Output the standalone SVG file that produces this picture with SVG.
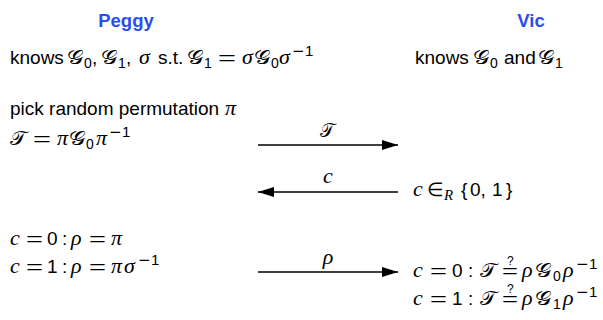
<svg xmlns="http://www.w3.org/2000/svg" width="603" height="320" viewBox="0 0 603 320">
<defs>
<marker id="ah" viewBox="0 0 16 10" refX="16" refY="5" markerWidth="16" markerHeight="10" markerUnits="userSpaceOnUse" orient="auto">
<path d="M0,0 L16,5 L0,10 Z" fill="#000"/>
</marker>
</defs>
<style>
text{font-family:"Liberation Sans",Arial,sans-serif;font-size:19px;fill:#000}
.h{font-weight:bold;fill:#2b4cf2;text-anchor:middle;font-size:18.5px}
.i{font-family:"Liberation Serif","DejaVu Serif",serif;font-style:italic;font-size:22px}
.g{font-family:"DejaVu Sans","Noto Sans",sans-serif;font-size:19px}
.s{font-size:14px}
.m{font-family:"DejaVu Sans",sans-serif;font-size:15px}
.u{font-size:15px}
.e{font-size:18px}
.o{font-family:"DejaVu Sans",sans-serif;font-size:19px}
.q{font-family:"Liberation Sans",sans-serif;font-size:12px}
.lbl{text-anchor:middle}
line{stroke:#000;stroke-width:1.6}
</style>
<g id="peggy-title"><text class="h" x="126" y="27">Peggy</text></g>
<g id="vic-title"><text class="h" x="531" y="27">Vic</text></g>
<g id="peggy-knows">
<text x="10" y="64">knows</text>
<text class="g" x="67" y="64" textLength="17" lengthAdjust="spacingAndGlyphs">𝒢</text><text class="s" x="84" y="68">0</text>
<text x="92" y="64">,</text>
<text class="g" x="101" y="64" textLength="17" lengthAdjust="spacingAndGlyphs">𝒢</text><text class="s" x="118" y="68">1</text>
<text x="126" y="64">,</text>
<text class="i" x="139" y="64">σ</text>
<text x="158" y="64">s.t.</text>
<text class="g" x="187" y="64" textLength="17" lengthAdjust="spacingAndGlyphs">𝒢</text><text class="s" x="204" y="68">1</text>
<text class="e" x="218" y="64" textLength="18" lengthAdjust="spacingAndGlyphs">=</text>
<text class="i" x="242" y="64">σ</text>
<text class="g" x="254" y="64" textLength="17" lengthAdjust="spacingAndGlyphs">𝒢</text><text class="s" x="271" y="68">0</text>
<text class="i" x="279" y="64">σ</text>
<text class="m" x="292" y="56">−</text><text class="u" x="305" y="56">1</text>
</g>
<g id="vic-knows">
<text x="415" y="64">knows</text>
<text class="g" x="473" y="64" textLength="17" lengthAdjust="spacingAndGlyphs">𝒢</text><text class="s" x="490" y="68">0</text>
<text x="504" y="64">and</text>
<text class="g" x="538" y="64" textLength="17" lengthAdjust="spacingAndGlyphs">𝒢</text><text class="s" x="555" y="68">1</text>
</g>
<g id="peggy-pick">
<text x="10" y="115">pick random permutation</text>
<text class="i" x="225" y="115">π</text>
</g>
<g id="peggy-T">
<text class="g" x="10" y="145" textLength="17" lengthAdjust="spacingAndGlyphs">𝒯</text>
<text class="e" x="33" y="145" textLength="18" lengthAdjust="spacingAndGlyphs">=</text>
<text class="i" x="57" y="145">π</text>
<text class="g" x="69" y="145" textLength="17" lengthAdjust="spacingAndGlyphs">𝒢</text><text class="s" x="86" y="149">0</text>
<text class="i" x="96" y="145">π</text>
<text class="m" x="109" y="137">−</text><text class="u" x="122" y="137">1</text>
</g>
<g id="vic-c">
<text class="i" x="413" y="196">c</text>
<text class="o" x="427" y="196">∈</text>
<text class="i" x="444" y="200" style="font-size:15px">R</text>
<text x="461" y="196">{</text>
<text x="470" y="196">0,</text>
<text x="492" y="196">1</text>
<text x="506" y="196">}</text>
</g>
<g id="peggy-rho0">
<text class="i" x="10" y="245">c</text>
<text class="e" x="26" y="245" textLength="17" lengthAdjust="spacingAndGlyphs">=</text>
<text x="47" y="245">0</text>
<text x="62" y="245">:</text>
<text class="i" x="71" y="245">ρ</text>
<text class="e" x="89" y="245" textLength="17" lengthAdjust="spacingAndGlyphs">=</text>
<text class="i" x="111" y="245">π</text>
</g>
<g id="peggy-rho1">
<text class="i" x="10" y="273">c</text>
<text class="e" x="26" y="273" textLength="17" lengthAdjust="spacingAndGlyphs">=</text>
<text x="47" y="273">1</text>
<text x="62" y="273">:</text>
<text class="i" x="71" y="273">ρ</text>
<text class="e" x="89" y="273" textLength="17" lengthAdjust="spacingAndGlyphs">=</text>
<text class="i" x="111" y="273">π</text>
<text class="i" x="124" y="273">σ</text>
<text class="m" x="138" y="265">−</text><text class="u" x="151" y="265">1</text>
</g>
<g id="vic-check0">
<text class="i" x="413" y="277">c</text>
<text class="e" x="430" y="277" textLength="17" lengthAdjust="spacingAndGlyphs">=</text>
<text x="452" y="277">0</text>
<text x="468" y="277">:</text>
<text class="g" x="480" y="277" textLength="17" lengthAdjust="spacingAndGlyphs">𝒯</text>
<text class="e" x="502" y="277" textLength="16" lengthAdjust="spacingAndGlyphs">=</text>
<text class="q" x="507" y="265">?</text>
<text class="i" x="522" y="277">ρ</text>
<text class="g" x="535" y="277" textLength="17" lengthAdjust="spacingAndGlyphs">𝒢</text><text class="s" x="553" y="281">0</text>
<text class="i" x="563" y="277">ρ</text>
<text class="m" x="576" y="269">−</text><text class="u" x="589" y="269">1</text>
</g>
<g id="vic-check1">
<text class="i" x="413" y="305">c</text>
<text class="e" x="430" y="305" textLength="17" lengthAdjust="spacingAndGlyphs">=</text>
<text x="452" y="305">1</text>
<text x="468" y="305">:</text>
<text class="g" x="480" y="305" textLength="17" lengthAdjust="spacingAndGlyphs">𝒯</text>
<text class="e" x="502" y="305" textLength="16" lengthAdjust="spacingAndGlyphs">=</text>
<text class="q" x="507" y="293">?</text>
<text class="i" x="522" y="305">ρ</text>
<text class="g" x="535" y="305" textLength="17" lengthAdjust="spacingAndGlyphs">𝒢</text><text class="s" x="553" y="309">1</text>
<text class="i" x="563" y="305">ρ</text>
<text class="m" x="576" y="297">−</text><text class="u" x="589" y="297">1</text>
</g>
<g id="connectors">
<line x1="258" y1="145" x2="398" y2="145" marker-end="url(#ah)"/>
<text class="lbl g" x="327" y="137">𝒯</text>
<line x1="398" y1="192" x2="258" y2="192" marker-end="url(#ah)"/>
<text class="lbl i" x="328" y="183">c</text>
<line x1="258" y1="272" x2="398" y2="272" marker-end="url(#ah)"/>
<text class="lbl i" x="328" y="264">ρ</text>
</g>
</svg>
